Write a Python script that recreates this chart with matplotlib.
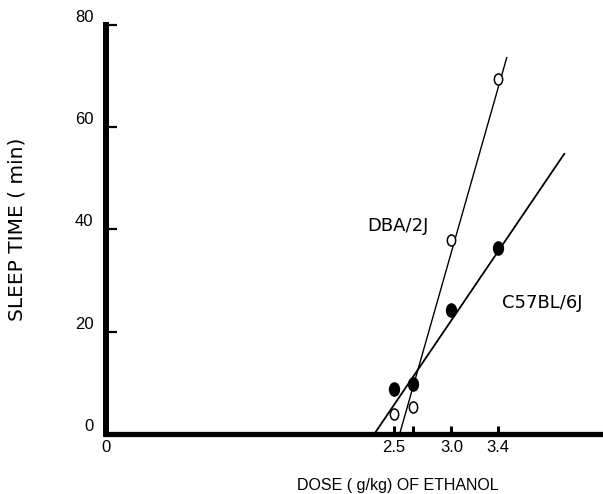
import numpy as np
import matplotlib
matplotlib.use('Agg')
import matplotlib.pyplot as plt
from matplotlib.path import Path
from matplotlib.transforms import Affine2D

plt.rcParams['font.family'] = ['Liberation Sans', 'DejaVu Sans']

# dose (g/kg) and sleep time (min)
dose = [2.5, 2.67, 3.0, 3.4]
c57_sleep = [8.8, 9.8, 24.3, 36.4]
dba_sleep = [3.9, 5.3, 38.0, 69.5]

# fitted lines (end points)
c57_fit_x = [2.33, 3.98]
c57_fit_y = [0.0, 54.8]
dba_fit_x = [2.55, 3.48]
dba_fit_y = [0.0, 73.6]

xtick_pos = [0, 2.5, 2.67, 3.0, 3.4]
xtick_lab = ['0', '2.5', '', '3.0', '3.4']
ytick_pos = [0, 20, 40, 60, 80]

# tall ellipse marker, like the hand-drawn points
oval = Path.unit_circle().transformed(Affine2D().scale(0.75, 1.0))

fig = plt.figure(figsize=(6.03, 4.94), dpi=100)
ax = fig.add_axes([0.1758, 0.1215, 0.8192, 0.828])

ax.plot(c57_fit_x, c57_fit_y, color='black', lw=1.3, zorder=2)
ax.plot(dba_fit_x, dba_fit_y, color='black', lw=1.0, zorder=2)
ax.plot(dose, c57_sleep, linestyle='none', marker=oval, ms=9.5,
        mfc='black', mec='black', zorder=3, clip_on=False)
ax.plot(dose, dba_sleep, linestyle='none', marker=oval, ms=8,
        mfc='white', mec='black', mew=1.1, zorder=3, clip_on=False)

ax.text(2.535, 40.7, 'DBA/2J', fontsize=13, family='DejaVu Sans',
        ha='center', va='center')
ax.text(3.79, 25.6, 'C57BL/6J', fontsize=13, family='DejaVu Sans',
        ha='center', va='center')

ax.set_xlim(0, 4.29)
ax.set_ylim(0, 80)

for s in ['top', 'right']:
    ax.spines[s].set_visible(False)
ax.spines['left'].set_linewidth(4.3)
ax.spines['bottom'].set_linewidth(3.8)

ax.set_xticks(xtick_pos)
ax.set_xticklabels(xtick_lab)
ax.set_yticks(ytick_pos)
ax.tick_params(axis='x', direction='in', length=5.5, width=2.2, pad=4, labelsize=12)
ax.tick_params(axis='y', direction='in', length=8, width=1.6, pad=9, labelsize=12)
for lab in ax.get_yticklabels():
    lab.set_verticalalignment('bottom')

ax.set_ylabel('SLEEP TIME ( min)', fontsize=14.5, family='DejaVu Sans')
ax.yaxis.set_label_coords(-0.16, 0.5)
ax.set_xlabel('DOSE ( g/kg) OF ETHANOL', fontsize=11.5)
ax.xaxis.set_label_coords(0.59, -0.108)

fig.savefig('out.png', dpi=100)
